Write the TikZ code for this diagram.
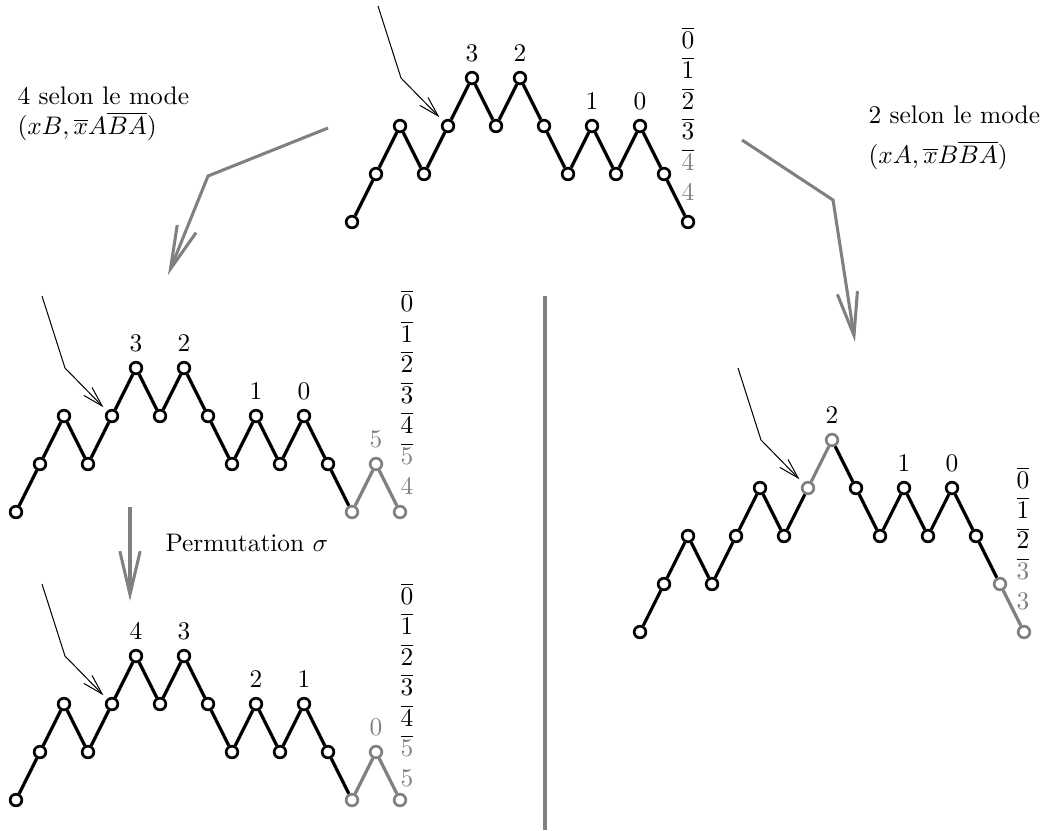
\documentclass[tikz,border=0pt]{standalone}
\usepackage{amsmath,amssymb}
\usepackage{xcolor}
\usepackage{tikz}
\usetikzlibrary{arrows.meta,positioning,calc}

\newcommand{\gr}[1]{\textcolor{gray}{#1}}
\newcommand{\montagne}[4]{%
  \foreach \h/\g [count=\i, remember=\i as \p (initially 0),
                  remember=\g as \q (initially 0)] in {#4} {
    \pgfmathtruncatemacro{\teinte}{100-50*\g}
    \node[sommet, draw=black!\teinte] (#1-\i) at ({#2+24*(\i-1)}, {#3-48*\h}) {};
    \ifnum\i>1
      \pgfmathtruncatemacro{\teinte}{100-50*\g*\q}
      \draw[trait, black!\teinte] (#1-\p) -- (#1-\i);
    \fi
  }%
}

\begin{document}
\begin{tikzpicture}[
  x=0.3937pt, y=-0.3937pt,
  sommet/.style={circle, draw, fill=white, line width=1.05pt, inner sep=0pt, minimum size=4.6pt},
  trait/.style={line width=1.25pt},
  fleche/.style={-{Straight Barb[length=8pt, width=4.5pt]}, thin, shorten >=2pt},
  grosse/.style={-{Straight Barb[length=17pt, width=8pt]}, line width=1.2pt, gray},
  pile/.style={align=center, anchor=south, inner sep=0pt},
  texte/.style={align=left, inner sep=0pt},
]
\useasboundingbox (0,0) rectangle (1044,830);

\montagne{haut}{352}{222}{0/0,1/0,2/0,1/0,2/0,3/0,2/0,3/0,2/0,1/0,2/0,1/0,2/0,1/0,0/0}
\montagne{gauche}{16}{512}{0/0,1/0,2/0,1/0,2/0,3/0,2/0,3/0,2/0,1/0,2/0,1/0,2/0,1/0,0/1,1/1,0/1}
\montagne{bas}{16}{800}{0/0,1/0,2/0,1/0,2/0,3/0,2/0,3/0,2/0,1/0,2/0,1/0,2/0,1/0,0/1,1/1,0/1}
\montagne{droite}{640}{632}{0/0,1/0,2/0,1/0,2/0,3/0,2/0,3/1,4/1,3/0,2/0,3/0,2/0,3/0,2/0,1/1,0/1}

\node[above=0pt of haut-6] (e-haut-6) {3};
\node[above=0pt of haut-8] (e-haut-8) {2};
\node[above=0pt of haut-11] (e-haut-11) {1};
\node[above=0pt of haut-13] (e-haut-13) {0};
\node[above=0pt of gauche-6] (e-gauche-6) {3};
\node[above=0pt of gauche-8] (e-gauche-8) {2};
\node[above=0pt of gauche-11] (e-gauche-11) {1};
\node[above=0pt of gauche-13] (e-gauche-13) {0};
\node[above=0pt of gauche-16, gray] (e-gauche-16) {5};
\node[above=0pt of bas-6] (e-bas-6) {4};
\node[above=0pt of bas-8] (e-bas-8) {3};
\node[above=0pt of bas-11] (e-bas-11) {2};
\node[above=0pt of bas-13] (e-bas-13) {1};
\node[above=0pt of bas-16, gray] (e-bas-16) {0};
\node[above=0pt of droite-9] (e-droite-9) {2};
\node[above=0pt of droite-12] (e-droite-12) {1};
\node[above=0pt of droite-14] (e-droite-14) {0};

\node[pile] (pile-haut) at (688,201) {$\overline{0}$\\$\overline{1}$\\$\overline{2}$\\$\overline{3}$\\$\overline{\gr{4}}$\\\gr{4}};
\node[pile] (pile-gauche) at (407,495) {$\overline{0}$\\$\overline{1}$\\$\overline{2}$\\$\overline{3}$\\$\overline{4}$\\$\overline{\gr{5}}$\\\gr{4}};
\node[pile] (pile-bas) at (407,788) {$\overline{0}$\\$\overline{1}$\\$\overline{2}$\\$\overline{3}$\\$\overline{4}$\\$\overline{\gr{5}}$\\\gr{5}};
\node[pile] (pile-droite) at (1023,611) {$\overline{0}$\\$\overline{1}$\\$\overline{2}$\\$\overline{\gr{3}}$\\\gr{3}};

\foreach \n in {haut-5, gauche-5, bas-5, droite-8} {
  \coordinate (depart-\n) at ($(\n)+(-70,-120)$);
  \coordinate (coude-\n) at ($(\n)+(-47,-48)$);
  \draw[fleche] (depart-\n) -- (coude-\n) -- (\n);
}

\node[texte, anchor=north west] (mode-gauche) at (17,86) {4 selon le mode\\$(xB,\overline{x}A\overline{BA})$};
\node[texte, anchor=north west] (mode-droite) at (868,105) {2 selon le mode\\[4pt]$(xA,\overline{x}B\overline{BA})$};

\coordinate (g-depart) at (328,128);
\coordinate (g-coude) at (208,176);
\coordinate (g-arrivee) at (168,275);
\draw[grosse] (g-depart) -- (g-coude) -- (g-arrivee);
\coordinate (d-depart) at (742,140);
\coordinate (d-coude) at (833,200);
\coordinate (d-arrivee) at (855,342);
\draw[grosse] (d-depart) -- (d-coude) -- (d-arrivee);
\coordinate (p-depart) at (130,507);
\coordinate (p-arrivee) at (130,601);
\draw[grosse] (p-depart) -- (p-arrivee);
\node[texte, anchor=base west] (perm) at (165,551) {Permutation $\sigma$};

\coordinate (sep-haut) at (545,296);
\coordinate (sep-bas) at (545,830);
\draw[line width=1.2pt, gray] (sep-haut) -- (sep-bas);
\end{tikzpicture}
\end{document}
